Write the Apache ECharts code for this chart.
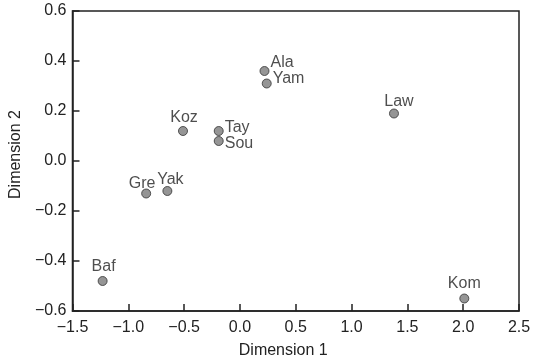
<!DOCTYPE html>
<html>
<head>
<meta charset="utf-8">
<script src="https://cdn.jsdelivr.net/npm/echarts@6/dist/echarts.min.js"></script>
<style>
  html, body { margin: 0; padding: 0; background: #fff; }
  #chart { width: 542px; height: 364px; }
</style>
</head>
<body>
<div id="chart"></div>
<script>
// Two-dimensional scaling configuration: one point per item
const names = ['Ala', 'Yam', 'Law', 'Koz', 'Tay', 'Sou', 'Gre', 'Yak', 'Baf', 'Kom'];
const dim1  = [0.22, 0.24, 1.38, -0.51, -0.19, -0.19, -0.84, -0.65, -1.23, 2.01];
const dim2  = [0.36, 0.31, 0.19, 0.12, 0.12, 0.08, -0.13, -0.12, -0.48, -0.55];

const xTicks = { min: -1.5, max: 2.5, step: 0.5 };
const yTicks = { min: -0.6, max: 0.6, step: 0.2 };

// where each name sits relative to its point
const labelSide = {
  Ala: { position: 'right', offset: [0, -8] },
  Yam: { position: 'right', offset: [0, -5] },
  Tay: { position: 'right', offset: [0, -3] },
  Sou: { position: 'right', offset: [0, 3] },
  Law: { position: 'top', offset: [5, 2] },
  Koz: { position: 'top', offset: [1, 1] },
  Gre: { position: 'top', offset: [-4, 4] },
  Yak: { position: 'top', offset: [3, 3] },
  Baf: { position: 'top', offset: [1, 0] },
  Kom: { position: 'top', offset: [0, -1] }
};

const fmt = v => {
  const s = Math.abs(v).toFixed(1);
  return (v < -1e-9 ? '\u2212' : '') + s;
};

const textColor = '#222';
const font = 'Liberation Sans, Arial, sans-serif';
const fontSize = 16;

const points = names.map((n, i) => {
  const side = labelSide[n] || { position: 'top', offset: [0, 0] };
  return {
    name: n,
    value: [dim1[i], dim2[i]],
    label: { position: side.position, offset: side.offset }
  };
});

const chart = echarts.init(document.getElementById('chart'), null, { renderer: 'canvas' });
chart.setOption({
  animation: false,
  grid: {
    left: 72, right: 23, top: 11, bottom: 52,
    show: true, borderColor: '#222', borderWidth: 1.5, backgroundColor: 'transparent'
  },
  xAxis: {
    type: 'value',
    min: xTicks.min, max: xTicks.max, interval: xTicks.step,
    name: 'Dimension 1', nameLocation: 'middle', nameGap: 32,
    nameTextStyle: { color: textColor, fontSize: fontSize, fontFamily: font, padding: [0, 25, 0, 0] },
    axisLine: { show: true, onZero: false, lineStyle: { color: '#222', width: 1.5 } },
    axisTick: { show: true, inside: true, length: 7, lineStyle: { color: '#222', width: 1.5 } },
    axisLabel: { color: textColor, fontSize: fontSize, fontFamily: font, margin: 9, formatter: fmt },
    splitLine: { show: false }
  },
  yAxis: {
    type: 'value',
    min: yTicks.min, max: yTicks.max, interval: yTicks.step,
    name: 'Dimension 2', nameLocation: 'middle', nameGap: 46, nameRotate: 90,
    nameTextStyle: { color: textColor, fontSize: fontSize, fontFamily: font, padding: [0, 0, 0, 13] },
    axisLine: { show: true, onZero: false, lineStyle: { color: '#222', width: 1.5 } },
    axisTick: { show: true, inside: true, length: 7, lineStyle: { color: '#222', width: 1.5 } },
    axisLabel: { color: textColor, fontSize: fontSize, fontFamily: font, margin: 6, formatter: fmt },
    splitLine: { show: false }
  },
  series: [{
    type: 'scatter',
    symbol: 'circle',
    symbolSize: 9,
    itemStyle: { color: '#7a7a7a', borderColor: '#333', borderWidth: 1 },
    label: {
      show: true,
      formatter: '{b}',
      color: textColor,
      fontSize: fontSize,
      fontFamily: font,
      distance: 1
    },
    data: points
  }]
});
</script>
</body>
</html>
